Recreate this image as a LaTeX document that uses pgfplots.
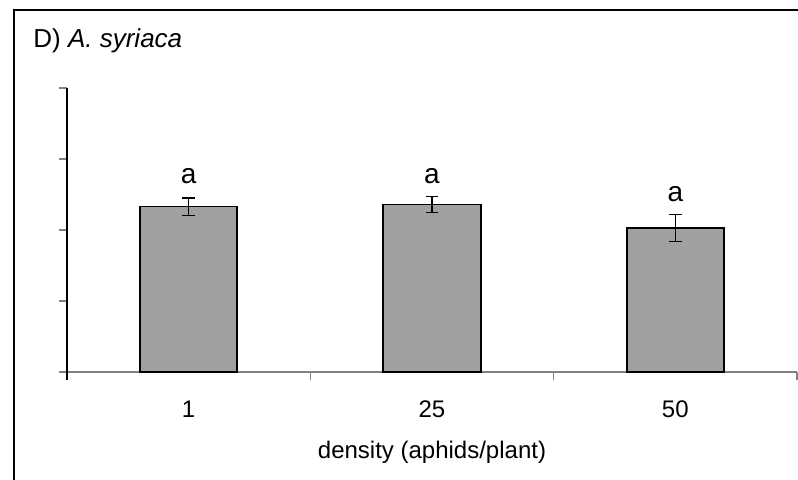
\documentclass[border=0pt]{standalone}
\usepackage{pgfplots}
\pgfplotsset{compat=1.18}
\usepackage{fontspec}
\setmainfont{Liberation Sans}
\definecolor{barfill}{HTML}{A0A0A0}
\definecolor{axgray}{HTML}{808080}
\begin{document}
\begin{tikzpicture}[font=\fontsize{12}{14.4}\selectfont]
\useasboundingbox (0,0) rectangle (399pt,240pt);
\draw[line width=1.1pt] (6.9pt,-5pt) -- (6.9pt,235pt) -- (405pt,235pt);
\node[anchor=base west, inner sep=0pt, font=\fontsize{13}{15.6}\selectfont] at (16.5pt,216pt) {D) \textit{A. syriaca}};
\begin{axis}[
  at={(33.5pt,54pt)}, anchor=south west,
  scale only axis, width=365pt, height=142pt,
  xmin=-0.5, xmax=2.5, ymin=0, ymax=4,
  axis x line=bottom, axis y line=left,
  x axis line style={-, color=axgray, line width=0.8pt},
  y axis line style={-, black, line width=0.6pt},
  xtick={-0.5,0.5,1.5,2.5}, xticklabels={},
  extra x ticks={0,1,2}, extra x tick labels={1,25,50},
  extra x tick style={major tick length=0pt},
  ytick={0,1,2,3,4}, yticklabels={},
  tick align=outside, major tick length=4pt,
  tick style={axgray, line width=0.7pt},
  xticklabel style={anchor=base, yshift=-23pt},
  /pgf/number format/assume math mode=true,
  xlabel={density (aphids/plant)},
  xlabel style={at={(axis description cs:0.5,0)}, anchor=base, yshift=-43.5pt},
  clip=false,
]
\addplot[ybar, bar width=0.4, fill=barfill, draw=black, line width=0.9pt,
  error bars/.cd, y dir=both, y explicit,
  error bar style={black, line width=0.6pt},
  error mark options={rotate=90, mark size=3.2pt, black, line width=0.6pt}]
  coordinates {(0,2.33) +- (0,0.122) (1,2.36) +- (0,0.111) (2,2.03) +- (0,0.188)};
\node[anchor=base, inner sep=0pt, font=\fontsize{14}{16.8}\selectfont] at (axis cs:0,2.648) {a};
\node[anchor=base, inner sep=0pt, font=\fontsize{14}{16.8}\selectfont] at (axis cs:1,2.648) {a};
\node[anchor=base, inner sep=0pt, font=\fontsize{14}{16.8}\selectfont] at (axis cs:2,2.408) {a};
\draw[black, line width=0.6pt] (axis cs:-0.5,0) -- ([yshift=-4pt]axis cs:-0.5,0);
\end{axis}
\end{tikzpicture}
\end{document}
